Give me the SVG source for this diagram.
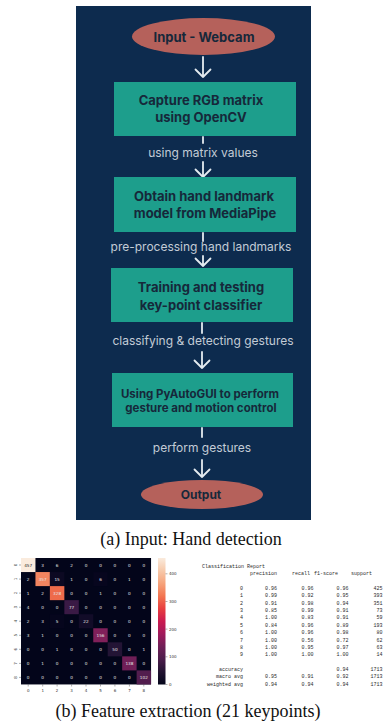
<svg xmlns="http://www.w3.org/2000/svg" width="383" height="726" viewBox="0 0 383 726">
<defs>
<style>
.box{fill:#1d9e8c}
.ell{fill:#b5615b}
.bt{font-family:Inter,"Open Sans",sans-serif;font-weight:700;fill:#16283a;text-anchor:middle}
.lab{font-family:Inter,"Open Sans",sans-serif;font-size:12px;fill:#c3ccd6;text-anchor:middle}
.ln{stroke:#e4ebf0;stroke-width:1.8;fill:none;stroke-linecap:round;stroke-linejoin:round}
.cap{font-family:"Liberation Serif","Times New Roman",serif;font-size:18px;fill:#111;text-anchor:middle}
.cm{font-family:"DejaVu Sans",sans-serif;font-size:4.2px;fill:#e6e6e6;text-anchor:middle}
.tk{font-family:"DejaVu Sans",sans-serif;font-size:4px;fill:#333}
.tkl{stroke:#333;stroke-width:0.4}
.rp{font-family:"Liberation Mono","Courier New",monospace;font-size:5px;fill:#2a2a2a}
.re{text-anchor:end}
</style>
<linearGradient id="rocket" x1="0" y1="1" x2="0" y2="0">
<stop offset="0" stop-color="#03051a"/>
<stop offset="0.1" stop-color="#221331"/>
<stop offset="0.2" stop-color="#4c1d4b"/>
<stop offset="0.3" stop-color="#701f57"/>
<stop offset="0.4" stop-color="#a11a5b"/>
<stop offset="0.5" stop-color="#cb1b4f"/>
<stop offset="0.6" stop-color="#e83f3f"/>
<stop offset="0.7" stop-color="#f37651"/>
<stop offset="0.8" stop-color="#f6a47c"/>
<stop offset="0.9" stop-color="#f7c9aa"/>
<stop offset="1" stop-color="#faebdd"/>
</linearGradient>
</defs>

<rect x="76" y="6" width="235" height="514" fill="#0d2b4e"/>

<g id="connectors">
<path class="ln" d="M203,57 V77 M195.5,69.5 L203,77 L210.5,69.5"/>
<path class="ln" d="M203,137 V143"/>
<path class="ln" d="M203,162 V177 M195.5,169.5 L203,177 L210.5,169.5"/>
<path class="ln" d="M203,233 V241"/>
<path class="ln" d="M203,256 V266 M195.5,258.5 L203,266 L210.5,258.5"/>
<path class="ln" d="M202,323 V333"/>
<path class="ln" d="M202,352 V368 M194.5,360.5 L202,368 L209.5,360.5"/>
<path class="ln" d="M202,428 V437"/>
<path class="ln" d="M202,460 V477 M194.5,469.5 L202,477 L209.5,469.5"/>
<text class="lab" x="203" y="157">using matrix values</text>
<text class="lab" x="201" y="251">pre-processing hand landmarks</text>
<text class="lab" x="203" y="344.5">classifying &amp; detecting gestures</text>
<text class="lab" x="202" y="452">perform gestures</text>
</g>

<g id="input">
<ellipse class="ell" cx="203.5" cy="36.5" rx="71.5" ry="18.5"/>
<text class="bt" x="204" y="41.5" font-size="13">Input - Webcam</text>
</g>
<g id="capture">
<rect class="box" x="114" y="82" width="182" height="54"/>
<text class="bt" x="201" y="104.5" font-size="13">Capture RGB matrix</text>
<text class="bt" x="201" y="121.5" font-size="13">using OpenCV</text>
</g>
<g id="landmark">
<rect class="box" x="114" y="177" width="182" height="55"/>
<text class="bt" x="204" y="200.5" font-size="13">Obtain hand landmark</text>
<text class="bt" x="205" y="217.5" font-size="13">model from MediaPipe</text>
</g>
<g id="training">
<rect class="box" x="111" y="268" width="182" height="54"/>
<text class="bt" x="201" y="291.5" font-size="13">Training and testing</text>
<text class="bt" x="201" y="309.5" font-size="13">key-point classifier</text>
</g>
<g id="pyautogui">
<rect class="box" x="112" y="373" width="181" height="54"/>
<text class="bt" x="200" y="397.5" font-size="11.5">Using PyAutoGUI to perform</text>
<text class="bt" x="201" y="411.5" font-size="11.5">gesture and motion control</text>
</g>
<g id="output">
<ellipse class="ell" cx="202" cy="494.5" rx="61" ry="14.5"/>
<text class="bt" x="201" y="498.5" font-size="12">Output</text>
</g>

<text class="cap" x="191" y="544.5">(a) Input: Hand detection</text>

<g id="confusion-matrix">
<rect x="21" y="558" width="130.05" height="126.45" fill="#03051a"/>
<rect x="21" y="558" width="14.45" height="14.05" fill="#faebdd"/>
<rect x="35.45" y="572.05" width="14.45" height="14.05" fill="#f28560"/>
<rect x="49.9" y="572.05" width="14.45" height="14.05" fill="#0c0922"/>
<rect x="93.25" y="572.05" width="14.45" height="14.05" fill="#07061e"/>
<rect x="49.9" y="586.1" width="14.45" height="14.05" fill="#ee6b4b"/>
<rect x="64.35" y="600.15" width="14.45" height="14.05" fill="#3a1a45"/>
<rect x="78.8" y="614.2" width="14.45" height="14.05" fill="#120c28"/>
<rect x="49.9" y="614.2" width="14.45" height="14.05" fill="#06061d"/>
<rect x="93.25" y="628.25" width="14.45" height="14.05" fill="#80205a"/>
<rect x="107.7" y="642.3" width="14.45" height="14.05" fill="#231435"/>
<rect x="122.15" y="656.35" width="14.45" height="14.05" fill="#701f57"/>
<rect x="136.6" y="670.4" width="14.45" height="14.05" fill="#521d4e"/>

<g transform="translate(0,566.5)">
<text class="cm" x="28.2" style="fill:#262626">457</text><text class="cm" x="42.7">3</text><text class="cm" x="57.1">6</text><text class="cm" x="71.6">2</text><text class="cm" x="86">0</text><text class="cm" x="100.5">0</text><text class="cm" x="114.9">0</text><text class="cm" x="129.4">0</text><text class="cm" x="143.8">0</text>
</g>
<g transform="translate(0,580.6)">
<text class="cm" x="28.2">2</text><text class="cm" x="42.7">357</text><text class="cm" x="57.1">15</text><text class="cm" x="71.6">1</text><text class="cm" x="86">0</text><text class="cm" x="100.5">6</text><text class="cm" x="114.9">0</text><text class="cm" x="129.4">1</text><text class="cm" x="143.8">0</text>
</g>
<g transform="translate(0,594.6)">
<text class="cm" x="28.2">1</text><text class="cm" x="42.7">2</text><text class="cm" x="57.1">328</text><text class="cm" x="71.6">0</text><text class="cm" x="86">0</text><text class="cm" x="100.5">1</text><text class="cm" x="114.9">0</text><text class="cm" x="129.4">0</text><text class="cm" x="143.8">0</text>
</g>
<g transform="translate(0,608.7)">
<text class="cm" x="28.2">4</text><text class="cm" x="42.7">0</text><text class="cm" x="57.1">0</text><text class="cm" x="71.6">77</text><text class="cm" x="86">0</text><text class="cm" x="100.5">0</text><text class="cm" x="114.9">0</text><text class="cm" x="129.4">0</text><text class="cm" x="143.8">0</text>
</g>
<g transform="translate(0,622.7)">
<text class="cm" x="28.2">2</text><text class="cm" x="42.7">3</text><text class="cm" x="57.1">5</text><text class="cm" x="71.6">0</text><text class="cm" x="86">22</text><text class="cm" x="100.5">0</text><text class="cm" x="114.9">0</text><text class="cm" x="129.4">0</text><text class="cm" x="143.8">0</text>
</g>
<g transform="translate(0,636.8)">
<text class="cm" x="28.2">3</text><text class="cm" x="42.7">1</text><text class="cm" x="57.1">0</text><text class="cm" x="71.6">0</text><text class="cm" x="86">0</text><text class="cm" x="100.5">156</text><text class="cm" x="114.9">0</text><text class="cm" x="129.4">0</text><text class="cm" x="143.8">0</text>
</g>
<g transform="translate(0,650.8)">
<text class="cm" x="28.2">0</text><text class="cm" x="42.7">0</text><text class="cm" x="57.1">1</text><text class="cm" x="71.6">0</text><text class="cm" x="86">0</text><text class="cm" x="100.5">0</text><text class="cm" x="114.9">50</text><text class="cm" x="129.4">0</text><text class="cm" x="143.8">1</text>
</g>
<g transform="translate(0,664.9)">
<text class="cm" x="28.2">0</text><text class="cm" x="42.7">1</text><text class="cm" x="57.1">0</text><text class="cm" x="71.6">0</text><text class="cm" x="86">0</text><text class="cm" x="100.5">0</text><text class="cm" x="114.9">0</text><text class="cm" x="129.4">138</text><text class="cm" x="143.8">0</text>
</g>
<g transform="translate(0,678.9)">
<text class="cm" x="28.2">0</text><text class="cm" x="42.7">0</text><text class="cm" x="57.1">0</text><text class="cm" x="71.6">0</text><text class="cm" x="86">0</text><text class="cm" x="100.5">0</text><text class="cm" x="114.9">0</text><text class="cm" x="129.4">0</text><text class="cm" x="143.8">102</text>
</g>

<path class="tkl" d="M28.2,684.5v2M42.7,684.5v2M57.1,684.5v2M71.6,684.5v2M86,684.5v2M100.5,684.5v2M114.9,684.5v2M129.4,684.5v2M143.8,684.5v2"/>
<g class="tk" text-anchor="middle">
<text x="28.2" y="692">0</text><text x="42.7" y="692">1</text><text x="57.1" y="692">2</text><text x="71.6" y="692">3</text><text x="86" y="692">4</text><text x="100.5" y="692">5</text><text x="114.9" y="692">6</text><text x="129.4" y="692">7</text><text x="143.8" y="692">8</text>
</g>
<path class="tkl" d="M19,565h2M19,579.1h2M19,593.1h2M19,607.2h2M19,621.2h2M19,635.3h2M19,649.3h2M19,663.4h2M19,677.4h2"/>
<g class="tk" text-anchor="middle">
<text transform="translate(16.5,565) rotate(-90)">0</text>
<text transform="translate(16.5,579.1) rotate(-90)">1</text>
<text transform="translate(16.5,593.1) rotate(-90)">2</text>
<text transform="translate(16.5,607.2) rotate(-90)">3</text>
<text transform="translate(16.5,621.2) rotate(-90)">4</text>
<text transform="translate(16.5,635.3) rotate(-90)">5</text>
<text transform="translate(16.5,649.3) rotate(-90)">6</text>
<text transform="translate(16.5,663.4) rotate(-90)">7</text>
<text transform="translate(16.5,677.4) rotate(-90)">8</text>
</g>

<rect x="158" y="558" width="7.5" height="126.5" fill="url(#rocket)"/>
<path class="tkl" d="M165.5,684.5h2M165.5,656.8h2M165.5,629.1h2M165.5,601.5h2M165.5,573.8h2"/>
<g class="tk">
<text x="169" y="686">0</text>
<text x="169" y="658.3">100</text>
<text x="169" y="630.6">200</text>
<text x="169" y="603">300</text>
<text x="169" y="575.3">400</text>
</g>
</g>

<g id="classification-report" class="rp">
<text x="202" y="567.8">Classification Report</text>
<text x="250" y="575.2">precision</text><text x="292" y="575.2">recall</text><text x="314" y="575.2">f1-score</text><text x="351" y="575.2">support</text>
<g class="re">
<text x="243" y="589.9">0</text><text x="277" y="589.9">0.96</text><text x="313.5" y="589.9">0.96</text><text x="348.5" y="589.9">0.96</text><text x="382.5" y="589.9">425</text>
<text x="243" y="597.3">1</text><text x="277" y="597.3">0.99</text><text x="313.5" y="597.3">0.92</text><text x="348.5" y="597.3">0.95</text><text x="382.5" y="597.3">393</text>
<text x="243" y="604.6">2</text><text x="277" y="604.6">0.91</text><text x="313.5" y="604.6">0.98</text><text x="348.5" y="604.6">0.94</text><text x="382.5" y="604.6">351</text>
<text x="243" y="612">3</text><text x="277" y="612">0.85</text><text x="313.5" y="612">0.99</text><text x="348.5" y="612">0.91</text><text x="382.5" y="612">73</text>
<text x="243" y="619.4">4</text><text x="277" y="619.4">1.00</text><text x="313.5" y="619.4">0.83</text><text x="348.5" y="619.4">0.91</text><text x="382.5" y="619.4">59</text>
<text x="243" y="626.8">5</text><text x="277" y="626.8">0.84</text><text x="313.5" y="626.8">0.96</text><text x="348.5" y="626.8">0.89</text><text x="382.5" y="626.8">193</text>
<text x="243" y="634.1">6</text><text x="277" y="634.1">1.00</text><text x="313.5" y="634.1">0.96</text><text x="348.5" y="634.1">0.98</text><text x="382.5" y="634.1">80</text>
<text x="243" y="641.5">7</text><text x="277" y="641.5">1.00</text><text x="313.5" y="641.5">0.56</text><text x="348.5" y="641.5">0.72</text><text x="382.5" y="641.5">62</text>
<text x="243" y="648.9">8</text><text x="277" y="648.9">1.00</text><text x="313.5" y="648.9">0.95</text><text x="348.5" y="648.9">0.97</text><text x="382.5" y="648.9">63</text>
<text x="243" y="656.3">9</text><text x="277" y="656.3">1.00</text><text x="313.5" y="656.3">1.00</text><text x="348.5" y="656.3">1.00</text><text x="382.5" y="656.3">14</text>
<text x="243" y="671">accuracy</text><text x="348.5" y="671">0.94</text><text x="382.5" y="671">1713</text>
<text x="243" y="678.4">macro avg</text><text x="277" y="678.4">0.95</text><text x="313.5" y="678.4">0.91</text><text x="348.5" y="678.4">0.92</text><text x="382.5" y="678.4">1713</text>
<text x="243" y="685.8">weighted avg</text><text x="277" y="685.8">0.94</text><text x="313.5" y="685.8">0.94</text><text x="348.5" y="685.8">0.94</text><text x="382.5" y="685.8">1713</text>
</g>
</g>

<text class="cap" x="188" y="717">(b) Feature extraction (21 keypoints)</text>
</svg>
